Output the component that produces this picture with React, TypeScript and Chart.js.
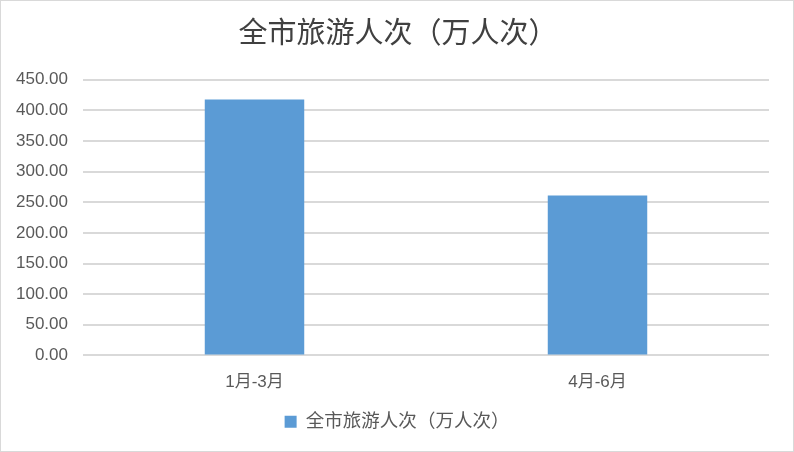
import { useEffect, useRef } from "react";
import { Chart, registerables } from "chart.js";

Chart.register(...registerables);

const title = "全市旅游人次（万人次）";
const seriesName = "全市旅游人次（万人次）";
const categories = ["1月-3月", "4月-6月"];
const visitors = [418, 261];

const textColor = "#595959";
const gridColor = "#d9d9d9";
const barColor = "#5b9bd5";
const font = "'Liberation Sans', 'Noto Sans CJK SC', sans-serif";

// nudge title and legend right a little, as in the original chart
const shiftBoxes = {
  id: "shiftBoxes",
  afterLayout(chart: any) {
    if (chart.titleBlock) {
      chart.titleBlock.left += 13;
      chart.titleBlock.right += 13;
    }
    if (chart.legend) {
      chart.legend.left += 12;
      chart.legend.right += 12;
    }
  },
};

export default function App() {
  const chartRef = useRef<HTMLCanvasElement>(null);
  const chartInstance = useRef<Chart | null>(null);

  useEffect(() => {
    if (!chartRef.current) return;
    document.body.style.margin = "0";

    if (chartInstance.current) {
      chartInstance.current.destroy();
    }

    chartInstance.current = new Chart(chartRef.current, {
      type: "bar",
      data: {
        labels: categories,
        datasets: [
          {
            label: seriesName,
            data: visitors,
            backgroundColor: barColor,
            borderWidth: 0,
            categoryPercentage: 1,
            barPercentage: 0.29,
          },
        ],
      },
      options: {
        responsive: true,
        maintainAspectRatio: false,
        animation: false,
        layout: { padding: { left: 0, right: 24, top: 0, bottom: 10 } },
        plugins: {
          title: {
            display: true,
            text: title,
            color: "#404040",
            font: { family: "'Noto Sans CJK SC', sans-serif", size: 29, weight: "normal" },
            padding: { top: 14, bottom: 30 },
          },
          legend: {
            position: "bottom",
            labels: {
              color: textColor,
              font: { family: font, size: 18.5 },
              boxWidth: 12,
              boxHeight: 12,
              padding: 10.7,
            },
          },
          tooltip: { enabled: false },
        },
        scales: {
          x: {
            grid: { display: false },
            border: { display: false },
            ticks: { color: textColor, font: { family: font, size: 17 }, padding: 9 },
          },
          y: {
            min: 0,
            max: 450,
            afterFit: (scale) => {
              scale.width = 82;
            },
            grid: { color: gridColor, lineWidth: 2, drawTicks: false },
            border: { display: false },
            ticks: {
              stepSize: 50,
              color: textColor,
              font: { family: font, size: 17 },
              padding: 15,
              callback: (value) => Number(value).toFixed(2),
            },
          },
        },
      },
      plugins: [shiftBoxes],
    });

    return () => {
      chartInstance.current?.destroy();
    };
  }, []);

  return (
    <div
      style={{
        position: "fixed",
        left: 0,
        top: 0,
        width: 794,
        height: 452,
        boxSizing: "border-box",
        border: "1px solid #d9d9d9",
        background: "#fff",
      }}
    >
      <canvas ref={chartRef} />
    </div>
  );
}
